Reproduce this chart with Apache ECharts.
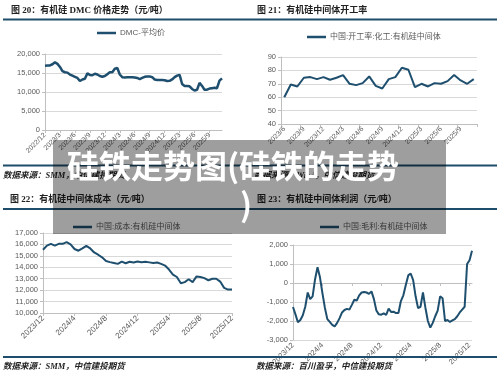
<!DOCTYPE html>
<html><head><meta charset="utf-8">
<script src="https://cdn.jsdelivr.net/npm/echarts@6/dist/echarts.min.js"></script>
<style>html,body{margin:0;padding:0;background:#fff}#c{width:500px;height:375px}</style>
</head><body><div id="c"></div><script>
// ---- data ----
const dmcTicks = ['2022/12','2023/3','2023/6','2023/9','2023/12','2024/3','2024/6','2024/9','2024/12','2025/3','2025/6','2025/9'];
const dmcValues = [16900,16950,17000,17300,17800,17400,16600,15500,15200,15100,14600,14300,
  14000,13700,12900,13300,13500,14900,14500,14400,14800,14600,14200,14000,
  14200,14700,15200,15200,16100,16300,14600,13900,13800,13850,13850,13850,
  13800,13700,13400,13700,14000,14100,14100,13900,13300,13150,13150,13150,
  13100,12900,12950,13300,13900,14300,14500,12100,11600,11600,11500,10800,
  10400,10600,12400,11600,10600,10600,10900,11000,11100,11000,13000,13600];

const rateTicks = ['2023/6','2023/9','2023/12','2024/3','2024/6','2024/9','2024/12','2025/3','2025/6','2025/9'];
const rateValues = [60,69.5,68,74.5,75,73.5,75,73,74.5,76.5,70,69,70.5,75.5,68.5,66.5,73.5,75,82,80.5,67.5,70,68,70.5,70,72,76.5,72.5,70,73.5];

const costTicks = ['2023/12','2024/4','2024/8','2024/12','2025/4','2025/8','2025/12'];
const costValues = [15540,15900,16050,15900,16050,16050,16200,16000,15600,15450,15650,15880,
  15650,15300,15100,14870,14550,14450,14380,14300,14500,14350,14480,14420,
  14500,14450,14480,14430,14380,14420,14300,14150,13800,13360,13150,12600,
  12700,12950,12700,13200,13150,13050,12850,13000,13000,12750,12200,12050,12050];

const profitTicks = ['2023/12','2024/4','2024/8','2024/12','2025/4','2025/8','2025/12'];
const profitValues = [-1260,-1650,-2070,-1950,-1700,-1250,-500,-850,-700,200,830,300,
  -530,-1300,-1900,-2050,-2200,-2280,-2100,-1850,-1550,-1420,-1360,-1400,
  -1150,-880,-920,-650,-500,-470,-500,-570,-440,-850,-1450,-1650,
  -1670,-1600,-1680,-1350,-1520,-1510,-1580,-1580,-950,-650,-100,400,
  500,150,-700,-1320,-1250,-500,-1300,-2000,-2350,-2100,-1750,-1450,
  -700,-800,-2000,-1950,-2050,-1970,-1900,-1750,-1550,-1400,-1250,1000,1200,1700];

// ---- categories (dates) ----
function periods(y, m, n, perMonth) {
  const days = perMonth === 1 ? [1] : perMonth === 2 ? [1,16] : [1,11,21];
  const out = [];
  for (let i = 0; i < n; i++) {
    const mm = m - 1 + Math.floor(i / perMonth);
    out.push((y + Math.floor(mm / 12)) + '/' + (mm % 12 + 1) + '/' + days[i % perMonth]);
  }
  return out;
}
const dmcCats = periods(2022, 12, dmcValues.length, 2);
const rateCats = periods(2023, 6, rateValues.length, 1);
const costCats = periods(2023, 12, costValues.length, 2);
const profitCats = periods(2023, 12, profitValues.length, 3);
const ym = v => v.split('/').slice(0, 2).join('/');

const LINE = '#1f4f6e';
const TXT = '#595959';
const LAT = '"Liberation Sans","Noto Sans CJK SC",sans-serif';
const HDR = '"Liberation Serif","Noto Sans CJK SC",serif';

function xAx(gi, cats, every, ticks, gap, fs) {
  return {
    type: 'category', gridIndex: gi, data: cats, boundaryGap: gap,
    axisLine: {lineStyle: {color: '#bfbfbf'}},
    axisTick: {show: true, interval: every - 1, length: 3, lineStyle: {color: '#bfbfbf'}},
    axisLabel: {interval: every - 1, rotate: 45, fontSize: fs, color: TXT, margin: 4, fontFamily: LAT,
      formatter: v => ym(v)}
  };
}
function yAx(gi, min, max, step, comma) {
  return {
    type: 'value', gridIndex: gi, min: min, max: max, interval: step,
    axisLine: {show: true, lineStyle: {color: '#bfbfbf'}},
    axisTick: {show: true, length: 3, lineStyle: {color: '#bfbfbf'}},
    splitLine: {lineStyle: {color: '#d9d9d9'}},
    axisLabel: {fontSize: 7.5, color: TXT, margin: 5, fontFamily: LAT,
      formatter: v => comma ? v.toLocaleString('en-US') : String(v)}
  };
}
function ser(name, i, data, w) {
  return {name: name, type: 'line', xAxisIndex: i, yAxisIndex: i, data: data,
    showSymbol: false, symbol: 'none', lineStyle: {color: LINE, width: w}, itemStyle: {color: LINE}};
}
function leg(name, left, top) {
  return {data: [name], left: left, top: top, padding: 0, icon: 'rect', itemWidth: 19, itemHeight: 2.5, itemGap: 4,
    textStyle: {fontSize: 8, color: TXT, fontFamily: LAT, padding: [0, 0, 0, -1]}, selectedMode: false};
}
function txt(s, x, y, font, fill, z) {
  return {type: 'text', z: z || 10, style: {text: s, x: x, y: y, font: font, fill: fill,
    verticalAlign: 'middle', textVerticalAlign: 'middle'}};
}
function hline(y, z) {
  return {type: 'line', z: z || 10, shape: {x1: 3, y1: y, x2: 497, y2: y}, style: {stroke: '#1e4d6b', lineWidth: 2}};
}

const n1 = 'DMC-平均价', n2 = '中国:开工率:化工:有机硅中间体', n3 = '中国:成本:有机硅中间体', n4 = '中国:毛利:有机硅中间体';
const hfont = 'bold 9px ' + HDR;
const sfont = 'italic bold 8.5px ' + HDR;

const option = {
  animation: false,
  backgroundColor: '#fff',
  grid: [
    {left: 45, top: 54, width: 177, height: 76},
    {left: 281, top: 57, width: 196, height: 67},
    {left: 43, top: 233, width: 189, height: 80},
    {left: 293, top: 245, width: 179, height: 95}
  ],
  xAxis: [
    xAx(0, dmcCats, 6, dmcTicks, false, 7),
    xAx(1, rateCats, 3, rateTicks, true, 7),
    xAx(2, costCats, 8, costTicks, false, 8),
    xAx(3, profitCats, 12, profitTicks, false, 7.5)
  ],
  yAxis: [
    yAx(0, 0, 20000, 5000, true),
    yAx(1, 40, 90, 10, false),
    yAx(2, 10000, 17000, 1000, true),
    yAx(3, -3000, 2000, 1000, true)
  ],
  legend: [leg(n1, 97, 29), leg(n2, 307, 33), leg(n3, 73, 223), leg(n4, 320, 223)],
  series: [
    ser(n1, 0, dmcValues, 2.5),
    ser(n2, 1, rateValues, 2),
    ser(n3, 2, costValues, 2),
    ser(n4, 3, profitValues, 2)
  ],
  graphic: [
    txt('图 20：有机硅 DMC 价格走势（元/吨）', 11, 11, hfont, '#222'),
    txt('图 21：有机硅中间体开工率', 257, 11, hfont, '#222'),
    txt('图 22：有机硅中间体成本（元/吨）', 10, 200, hfont, '#222'),
    txt('图 23：有机硅中间体利润（元/吨）', 257, 200, hfont, '#222'),
    hline(19.5), hline(165.5), hline(209), hline(357),
    txt('数据来源：SMM，中信建投期货', 3, 176, sfont, '#222'),
    txt('数据来源：Wind，中信建投期货', 254, 176, sfont, '#222'),
    txt('数据来源：SMM，中信建投期货', 3, 367, sfont, '#222'),
    txt('数据来源：百川盈孚，中信建投期货', 256, 367, sfont, '#222'),
    {type: 'rect', z: 100, shape: {x: 53, y: 140, width: 393, height: 94}, style: {fill: 'rgba(0,0,0,0.38)'}},
    txt('硅铁走势图(硅铁的走势', 67, 166, 'bold 32px "Noto Sans CJK SC",sans-serif', '#fff', 101),
    txt(')', 240, 205, 'bold 32px "Noto Sans CJK SC",sans-serif', '#fff', 101)
  ]
};
const chart = echarts.init(document.getElementById('c'), null, {renderer: 'canvas'});
chart.setOption(option);
</script></body></html>
